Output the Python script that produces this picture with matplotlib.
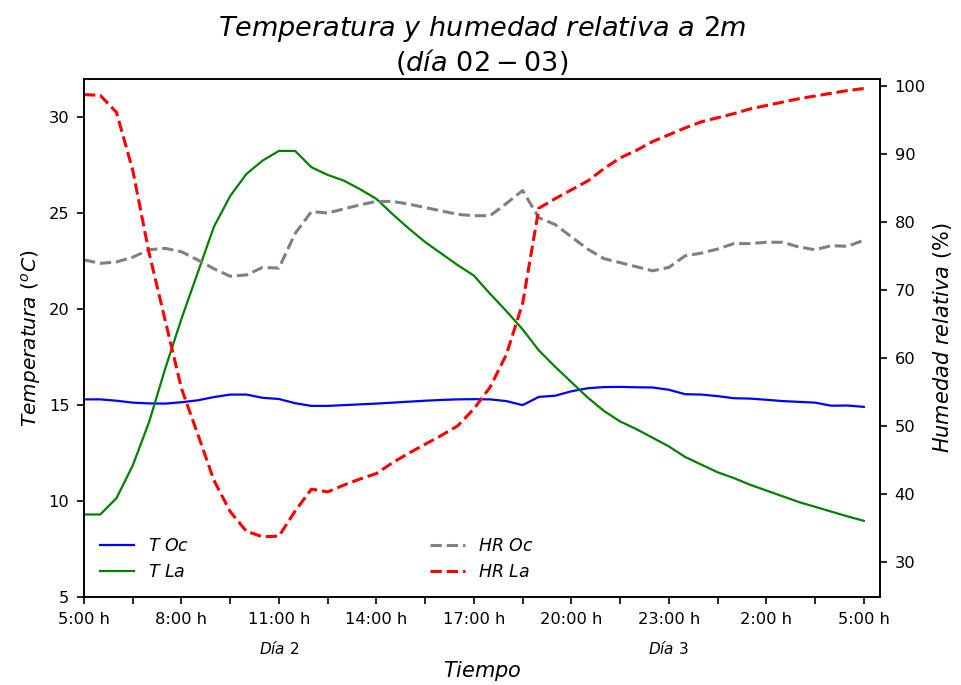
import numpy as np
import matplotlib
matplotlib.use('Agg')
import matplotlib.pyplot as plt
import matplotlib.transforms as mtransforms

plt.rcParams['mathtext.fontset'] = 'dejavusans'

# Half-hourly readings from 5:00 h (day 2) to 5:00 h (day 3)
t_oc = [15.30, 15.30, 15.23, 15.13, 15.09, 15.08, 15.15, 15.25, 15.42, 15.55,
        15.55, 15.38, 15.32, 15.10, 14.96, 14.96, 15.00, 15.04, 15.08, 15.13,
        15.18, 15.23, 15.27, 15.30, 15.31, 15.30, 15.21, 15.00, 15.43, 15.49,
        15.72, 15.88, 15.94, 15.95, 15.93, 15.92, 15.80, 15.57, 15.55, 15.47,
        15.36, 15.34, 15.28, 15.21, 15.17, 15.13, 14.97, 14.98, 14.91]
t_la = [9.30, 9.30, 10.15, 11.85, 14.10, 16.90, 19.50, 21.90, 24.30, 25.90,
        27.05, 27.75, 28.25, 28.25, 27.40, 27.00, 26.70, 26.25, 25.75, 24.95,
        24.20, 23.50, 22.90, 22.30, 21.75, 20.80, 19.90, 18.95, 17.85, 17.00,
        16.20, 15.40, 14.70, 14.15, 13.75, 13.30, 12.85, 12.30, 11.90, 11.50,
        11.20, 10.85, 10.55, 10.25, 9.95, 9.70, 9.45, 9.20, 8.97]
hr_oc = [74.4, 73.9, 74.1, 74.8, 75.9, 76.1, 75.6, 74.4, 73.1, 72.0,
         72.2, 73.3, 73.2, 78.3, 81.5, 81.3, 81.9, 82.5, 83.0, 83.0,
         82.6, 82.1, 81.6, 81.1, 80.9, 80.9, 82.7, 84.6, 80.6, 79.6,
         77.8, 76.0, 74.6, 74.0, 73.4, 72.8, 73.3, 75.0, 75.4, 76.0,
         76.8, 76.8, 77.0, 77.0, 76.3, 75.9, 76.5, 76.4, 77.3]
hr_la = [98.7, 98.6, 96.1, 87.6, 75.5, 65.5, 55.5, 48.8, 42.0, 37.4,
         34.5, 33.7, 33.8, 37.5, 40.7, 40.3, 41.3, 42.2, 43.0, 44.6,
         46.0, 47.3, 48.6, 50.0, 52.5, 55.7, 60.5, 68.0, 82.0, 83.4,
         84.7, 86.0, 87.8, 89.4, 90.5, 91.8, 92.8, 93.8, 94.7, 95.3,
         95.9, 96.6, 97.1, 97.6, 98.1, 98.5, 98.9, 99.3, 99.6]

hour_labels = ['5:00 h', '8:00 h', '11:00 h', '14:00 h', '17:00 h',
               '20:00 h', '23:00 h', '2:00 h', '5:00 h']
day_labels = [r'$Día\ 2$', r'$Día\ 3$']
day_pos = [12, 36]

x = np.arange(len(t_oc))

fig = plt.figure(figsize=(9.62, 6.85), dpi=100)
ax = fig.add_axes([0.0873, 0.1285, 0.8275, 0.7562])
ax2 = ax.twinx()

l1, = ax.plot(x, t_oc, color='blue', lw=1.6, label=r'$T\ Oc$')
l2, = ax.plot(x, t_la, color='green', lw=1.6, label=r'$T\ La$')
l3, = ax2.plot(x, hr_oc, color='gray', ls='--', lw=2.2, label=r'$HR\ Oc$')
l4, = ax2.plot(x, hr_la, color='red', ls='--', lw=2.2, label=r'$HR\ La$')

ax.set_xlim(0, 49)
ax.set_ylim(5, 32)
ax2.set_ylim(24.85, 101)
ax.set_yticks(np.arange(5, 31, 5))
ax2.set_yticks(np.arange(30, 101, 10))

# ticks every 1.5 h, labelled every 3 h
ticks = np.arange(0, 49, 3)
ax.set_xticks(ticks)
labels = []
for i, t in enumerate(ticks):
    labels.append(hour_labels[i // 2] if i % 2 == 0 else '')
ax.set_xticklabels(labels)
for a in (ax, ax2):
    a.tick_params(labelsize=11.7, length=5, width=1.2, pad=5.5)
    for s in a.spines.values():
        s.set_linewidth(1.2)

trans = mtransforms.blended_transform_factory(ax.transData, ax.transAxes)
for p, lab in zip(day_pos, day_labels):
    ax.text(p, -0.1, lab, transform=trans, ha='center', va='center', fontsize=11)

ax.set_xlabel(r'$Tiempo$', fontsize=15, labelpad=23)
ax.set_ylabel(r'$Temperatura\ (^oC)$', fontsize=14.5)
ax2.set_ylabel(r'$Humedad\ relativa\ (\%)$', fontsize=15)
ax.set_title(r'$Temperatura\ y\ humedad\ relativa\ a\ 2m$' + '\n' + r'$(día\ 02-03)$',
             fontsize=19.5, linespacing=1.1)

ax.legend(handles=[l1, l2], loc='lower left', frameon=False, fontsize=12.5)
ax2.legend(handles=[l3, l4], loc='lower center', frameon=False, fontsize=12.5)

fig.savefig('out.png', dpi=100)
